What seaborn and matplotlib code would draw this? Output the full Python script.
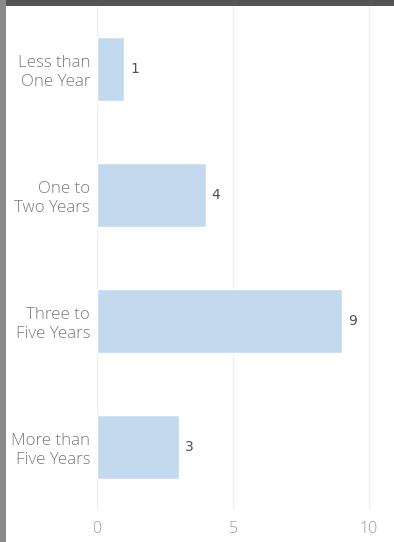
import matplotlib
matplotlib.use("Agg")
import matplotlib.pyplot as plt
from matplotlib.patches import Rectangle
import seaborn as sns
import pandas as pd

categories = ["Less than\nOne Year", "One to\nTwo Years", "Three to\nFive Years", "More than\nFive Years"]
counts = [1, 4, 9, 3]
x_ticks = [0, 5, 10]

df = pd.DataFrame({"tenure": categories, "count": counts})

sns.set_theme(style="white")
plt.rcParams["font.family"] = ["Open Sans", "DejaVu Sans"]

W, H = 394, 542
fig = plt.figure(figsize=(W / 100, H / 100), dpi=100)
fig.patch.set_facecolor("white")

ax = fig.add_axes([97 / W, 32 / H, (392 - 97) / W, (510 - 6) / H])
sns.barplot(data=df, x="count", y="tenure", orient="h", color="#c3d9ee",
            saturation=1, width=0.51, ax=ax)

ax.set_xlim(0, (392 - 97) / 27.2)
ax.set_ylim(3.5, -0.5)
ax.set_xticks(x_ticks)
ax.set_xticklabels([str(t) for t in x_ticks], color="#9a9a9a", fontsize=11.5,
                   fontweight="light")
ax.tick_params(axis="x", length=0, pad=8)
ax.tick_params(axis="y", length=0, pad=5)
ax.set_yticks(range(len(categories)))
ax.set_yticklabels(categories, color="#7a7a7a", fontsize=12.2, fontweight="light",
                   ha="right", multialignment="right", linespacing=1.25)
ax.set_xlabel("")
ax.set_ylabel("")

for t in x_ticks:
    ax.axvline(t, color="#efefef", lw=1, zorder=0)
for s in ax.spines.values():
    s.set_visible(False)

for i, v in enumerate(counts):
    ax.text(v + 0.22, i, str(v), va="center", ha="left", fontsize=10,
            color="#505050", family="DejaVu Sans")

# frame bands along the top and left edge
fig.patches.append(Rectangle((0, 1 - 6 / H), 1, 6 / H, transform=fig.transFigure,
                             facecolor="#555555", edgecolor="none", zorder=5))
fig.patches.append(Rectangle((0, 0), 6 / W, 1, transform=fig.transFigure,
                             facecolor="#8a8a8a", edgecolor="none", zorder=5))

fig.savefig("out.png", dpi=100, facecolor="white")
